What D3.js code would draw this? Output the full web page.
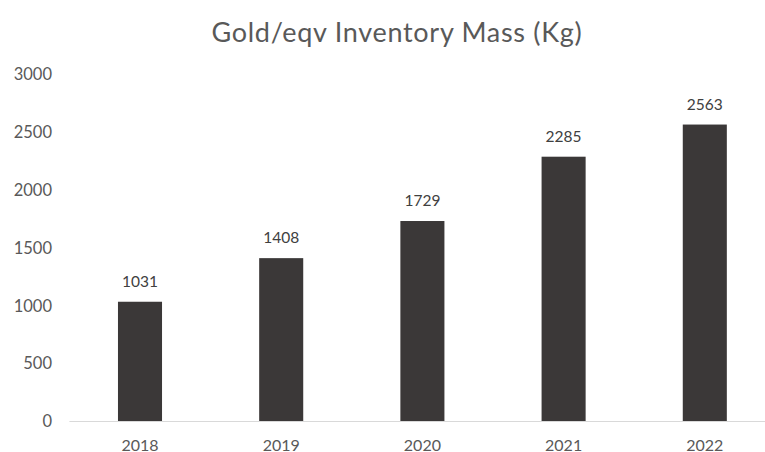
<!DOCTYPE html>
<html><head><meta charset="utf-8">
<script src="https://cdn.jsdelivr.net/npm/d3@7"></script>
<style>body{margin:0;background:#fff;overflow:hidden}svg{display:block}</style>
</head><body>
<svg id="c" width="765" height="452"></svg>
<script>
const title = "Gold/eqv Inventory Mass (Kg)";
const categories = ["2018","2019","2020","2021","2022"];
const values = [1031,1408,1729,2285,2563];
const yTicks = [0,500,1000,1500,2000,2500,3000];

const svg = d3.select("#c");
const font = "Lato, 'Open Sans', sans-serif";
const x = d3.scaleBand().domain(categories).range([69.4, 775.4]).paddingInner(0.688).paddingOuter(0.344);
const y = d3.scaleLinear().domain([0,3000]).range([421, 74]);

svg.append("text").attr("x",397).attr("y",42).attr("text-anchor","middle")
  .attr("font-family",font).attr("font-size",27).attr("letter-spacing",0.7).attr("fill","#595959").text(title);

const ya = svg.append("g").attr("transform","translate(52,0)")
  .call(d3.axisLeft(y).tickValues(yTicks).tickFormat(d3.format("d")).tickSize(0).tickPadding(0));
ya.select(".domain").remove();
ya.selectAll("text").attr("font-family",font).attr("font-size",16.5).attr("fill","#595959").attr("dy","0.35em");

svg.append("line").attr("x1",69.4).attr("x2",775).attr("y1",y(0)+0.5).attr("y2",y(0)+0.5)
  .attr("stroke","#d9d9d9").attr("stroke-width",1);

svg.selectAll("rect.bar").data(values).join("rect").attr("class","bar")
  .attr("x",(d,i)=>x(categories[i])).attr("width",x.bandwidth())
  .attr("y",d=>y(d)).attr("height",d=>y(0)-y(d)).attr("fill","#3b3838");

svg.selectAll("text.val").data(values).join("text").attr("class","val")
  .attr("x",(d,i)=>x(categories[i])+x.bandwidth()/2).attr("y",d=>y(d)-15)
  .attr("text-anchor","middle").attr("font-family",font).attr("font-size",15.5).attr("fill","#404040").text(d=>d);

const xa = svg.append("g").attr("transform",`translate(0,${y(0)})`)
  .call(d3.axisBottom(x).tickSize(0).tickPadding(0));
xa.select(".domain").remove();
xa.selectAll("text").attr("font-family",font).attr("font-size",16).attr("fill","#595959")
  .attr("dy",null).attr("y",29.5);
</script>
</body></html>
